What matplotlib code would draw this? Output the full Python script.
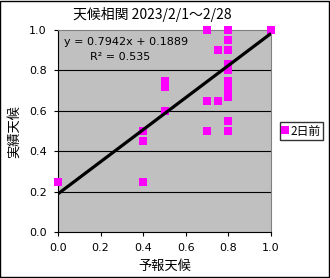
import numpy as np
import matplotlib
matplotlib.use("Agg")
import matplotlib.pyplot as plt
from matplotlib.patches import Rectangle

plt.rcParams['font.family'] = ['Noto Sans CJK JP', 'DejaVu Sans']

# forecast (x) vs actual (y), 2 days before
yohou = [0.0, 0.4, 0.4, 0.4, 0.5, 0.5, 0.5, 0.7, 0.7, 0.7, 0.75, 0.75,
         0.8, 0.8, 0.8, 0.8, 0.8, 0.8, 0.8, 0.8, 0.8, 0.8, 1.0]
jisseki = [0.25, 0.5, 0.45, 0.25, 0.75, 0.72, 0.6, 1.0, 0.65, 0.5, 0.9, 0.65,
           1.0, 0.95, 0.9, 0.83, 0.8, 0.75, 0.71, 0.67, 0.55, 0.5, 1.0]
slope = 0.7942
intercept = 0.1889
r2 = 0.535
ticks = [0.0, 0.2, 0.4, 0.6, 0.8, 1.0]

fig = plt.figure(figsize=(3.3, 2.78), dpi=100)
ax = fig.add_axes([58/330, 1 - 232/278, 213/330, 202/278])
ax.set_facecolor('#C0C0C0')

for t in ticks[1:-1]:
    ax.axhline(t, color='black', linewidth=0.8, zorder=1)

ax.plot(yohou, jisseki, 's', color='#FF00FF', markersize=5.2, markeredgewidth=0,
        label='2日前', zorder=3, clip_on=False)
xs = np.array([0.0, 1.0])
ax.plot(xs, slope * xs + intercept, color='black', linewidth=2.3, zorder=4,
        solid_capstyle='butt')

ax.text(0.03, 0.94, 'y = %.4fx + %.4f' % (slope, intercept), fontsize=8,
        family=['DejaVu Sans'], va='center')
ax.text(0.15, 0.865, 'R² = %.3f' % r2, fontsize=8, family=['DejaVu Sans'],
        va='center')

ax.set_xlim(0, 1)
ax.set_ylim(0, 1)
ax.set_xticks(ticks)
ax.set_yticks(ticks)
ax.set_xticklabels(['%.1f' % t for t in ticks], fontsize=8, family=['DejaVu Sans'])
ax.set_yticklabels(['%.1f' % t for t in ticks], fontsize=8, family=['DejaVu Sans'])
ax.tick_params(direction='out', length=3, width=0.8, pad=5)
for s in ['top', 'right']:
    ax.spines[s].set_color('#808080')
    ax.spines[s].set_linewidth(0.8)
for s in ['left', 'bottom']:
    ax.spines[s].set_linewidth(0.8)

fig.text(152/330, 1 - 15/278, '天候相関 2023/2/1～2/28', fontsize=10,
         ha='center', va='center')
ax.set_xlabel('予報天候', fontsize=9.5, labelpad=5)
ax.set_ylabel('実績天候', fontsize=9.5, labelpad=6)

ax.legend(loc='center left', bbox_to_anchor=(1.015, 0.5), fontsize=8.5,
          frameon=True, fancybox=False, edgecolor='black', handlelength=0.5,
          handletextpad=0.2, borderpad=0.2, markerscale=1.0)

fig.patches.append(Rectangle((0.001, 0.002), 0.996, 0.995, transform=fig.transFigure,
                             fill=False, edgecolor='black', linewidth=1))

fig.savefig('out.png', dpi=100)
